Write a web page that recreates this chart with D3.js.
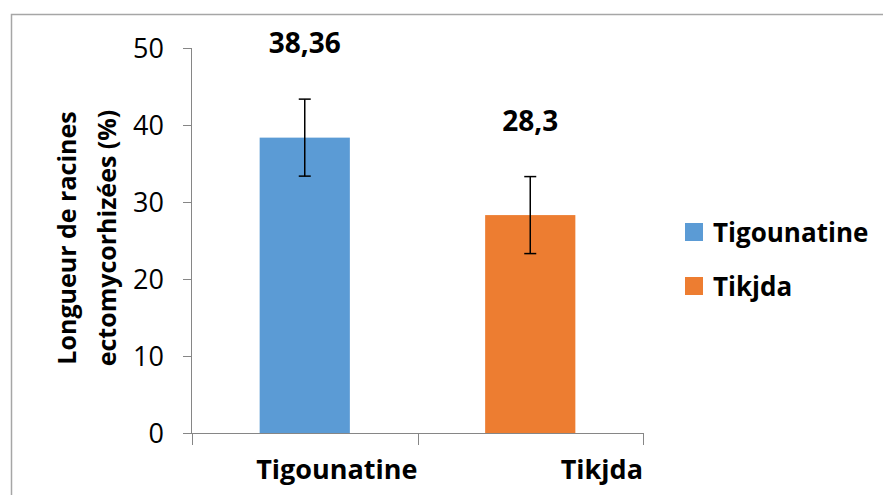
<!DOCTYPE html>
<html>
<head>
<meta charset="utf-8">
<script src="https://cdn.jsdelivr.net/npm/d3@7"></script>
<style>
  html, body { margin: 0; padding: 0; background: #fff; }
  svg { display: block; font-family: "Open Sans", Lato, sans-serif; }
</style>
</head>
<body>
<svg id="chart" width="883" height="495"></svg>
<script>
const categories = ["Tigounatine", "Tikjda"];
const values = [38.36, 28.3];
const errors = [5, 5];
const valueLabels = ["38,36", "28,3"];
const colors = ["#5B9BD5", "#ED7D31"];
const yTicks = [0, 10, 20, 30, 40, 50];
const yTitle = ["Longueur de racines", "ectomycorhizées (%)"];

const svg = d3.select("#chart");
const axisColor = "#868686";

// chart border
svg.append("rect")
  .attr("x", 11.5).attr("y", 14.5)
  .attr("width", 900).attr("height", 520)
  .attr("fill", "none").attr("stroke", "#a6a6a6").attr("stroke-width", 1.5);

const x = d3.scaleBand().domain(categories).range([192, 643])
  .paddingInner(0.6).paddingOuter(0.3);
const y = d3.scaleLinear().domain([0, 50]).range([433, 48]);

// y axis
const gy = svg.append("g");
gy.append("line").attr("x1", 191.5).attr("x2", 191.5)
  .attr("y1", y(0)).attr("y2", y(50)).attr("stroke", axisColor);
gy.selectAll("line.t").data(yTicks).join("line").attr("class", "t")
  .attr("x1", 183).attr("x2", 192)
  .attr("y1", d => Math.round(y(d)) + 0.5).attr("y2", d => Math.round(y(d)) + 0.5)
  .attr("stroke", axisColor);
gy.selectAll("text").data(yTicks).join("text")
  .attr("x", 164).attr("y", d => y(d))
  .attr("dy", "0.36em")
  .attr("text-anchor", "end")
  .attr("font-size", 27).attr("fill", "#000")
  .text(d => d);

// x axis
const step = x.step();
const bounds = [x(categories[0]) - x.paddingOuter() * step]
  .concat(categories.map(c => x(c) - x.paddingOuter() * step + step));
svg.append("line").attr("x1", 192).attr("x2", 643)
  .attr("y1", y(0) + 0.5).attr("y2", y(0) + 0.5).attr("stroke", axisColor);
svg.selectAll("line.xt").data(bounds).join("line").attr("class", "xt")
  .attr("x1", d => Math.round(d) + 0.5).attr("x2", d => Math.round(d) + 0.5)
  .attr("y1", y(0)).attr("y2", y(0) + 12).attr("stroke", axisColor);

// bars
svg.selectAll("rect.bar").data(categories).join("rect").attr("class", "bar")
  .attr("x", c => x(c)).attr("width", x.bandwidth())
  .attr("y", (c, i) => y(values[i]))
  .attr("height", (c, i) => y(0) - y(values[i]))
  .attr("fill", (c, i) => colors[i]);

// error bars
const eb = svg.selectAll("g.err").data(categories).join("g").attr("class", "err");
eb.append("line")
  .attr("x1", c => x(c) + x.bandwidth() / 2).attr("x2", c => x(c) + x.bandwidth() / 2)
  .attr("y1", (c, i) => y(values[i] + errors[i])).attr("y2", (c, i) => y(values[i] - errors[i]))
  .attr("stroke", "#000").attr("stroke-width", 1.5);
eb.append("line")
  .attr("x1", c => x(c) + x.bandwidth() / 2 - 6).attr("x2", c => x(c) + x.bandwidth() / 2 + 6)
  .attr("y1", (c, i) => y(values[i] + errors[i])).attr("y2", (c, i) => y(values[i] + errors[i]))
  .attr("stroke", "#000").attr("stroke-width", 1.5);
eb.append("line")
  .attr("x1", c => x(c) + x.bandwidth() / 2 - 6).attr("x2", c => x(c) + x.bandwidth() / 2 + 6)
  .attr("y1", (c, i) => y(values[i] - errors[i])).attr("y2", (c, i) => y(values[i] - errors[i]))
  .attr("stroke", "#000").attr("stroke-width", 1.5);

// value labels
svg.selectAll("text.val").data(categories).join("text").attr("class", "val")
  .attr("x", c => x(c) + x.bandwidth() / 2)
  .attr("y", (c, i) => y(values[i] + errors[i]) - 46)
  .attr("text-anchor", "middle")
  .attr("font-size", 28).attr("font-weight", "bold")
  .text((c, i) => valueLabels[i]);

// category labels (right aligned to category boundary)
svg.selectAll("text.cat").data(categories).join("text").attr("class", "cat")
  .attr("x", c => x(c) - x.paddingOuter() * step + step)
  .attr("y", 479)
  .attr("text-anchor", "end")
  .attr("font-size", 27).attr("font-weight", "bold")
  .text(c => c);

// y title
const yt = svg.append("text")
  .attr("transform", "translate(0,238) rotate(-90)")
  .attr("text-anchor", "middle")
  .attr("font-size", 25).attr("font-weight", "bold");
yt.selectAll("tspan").data(yTitle).join("tspan")
  .attr("x", 0).attr("y", (d, i) => i === 0 ? 76 : 116)
  .text(d => d);

// legend
const lg = svg.selectAll("g.leg").data(categories).join("g").attr("class", "leg")
  .attr("transform", (c, i) => `translate(685,${223 + i * 54})`);
lg.append("rect").attr("width", 18).attr("height", 18)
  .attr("fill", (c, i) => colors[i]);
lg.append("text").attr("x", 28).attr("y", 19)
  .attr("font-size", 26).attr("font-weight", "bold")
  .text(c => c);
</script>
</body>
</html>
